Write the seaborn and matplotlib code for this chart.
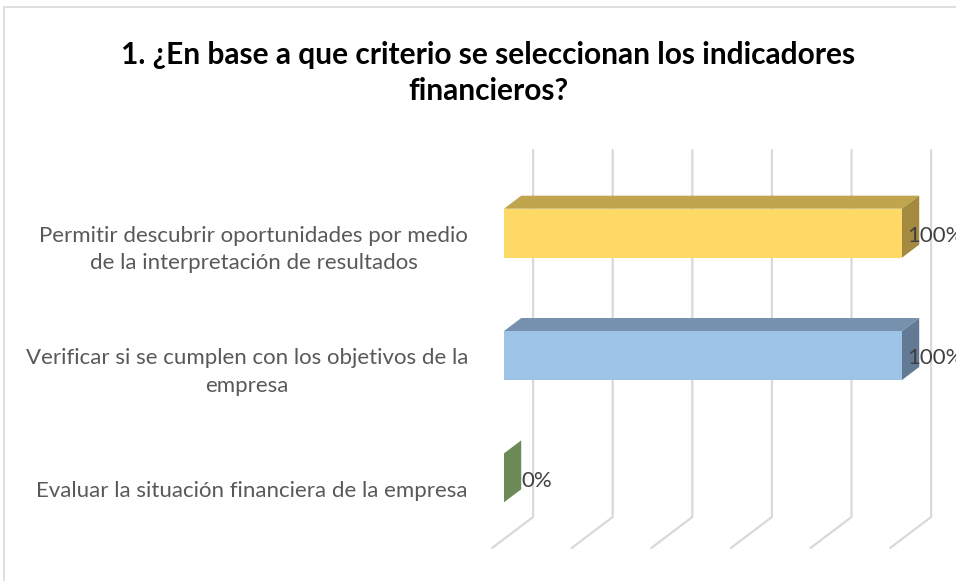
import matplotlib
matplotlib.use("Agg")
import matplotlib.pyplot as plt
import matplotlib.transforms as mtransforms
from matplotlib.patches import Polygon, Rectangle
import numpy as np
import pandas as pd
import seaborn as sns

# data
categories = [
    "Permitir descubrir oportunidades por medio\nde la interpretación de resultados",
    "Verificar si se cumplen con los objetivos de la\nempresa",
    "Evaluar la situación financiera de la empresa",
]
values = [1.0, 1.0, 0.0]
value_labels = ["100%", "100%", "0%"]
grid_ticks = [0.0, 0.2, 0.4, 0.6, 0.8, 1.0]
title = "1. ¿En base a que criterio se seleccionan los indicadores\nfinancieros?"

# colours: front face, top face, side face
front_colors = ["#FFD966", "#9DC3E6", "#A9D18E"]
top_colors = ["#C0A54E", "#7691AE", "#7F9D6B"]
side_colors = ["#A38A3F", "#627A93", "#6B8A57"]

sns.set_theme(style="white")
plt.rcParams['font.family'] = ['Lato', 'DejaVu Sans']

df = pd.DataFrame({"criterio": categories, "valor": values})

W, H = 956, 581
fig = plt.figure(figsize=(W / 100, H / 100), dpi=100)
fig.patch.set_facecolor("white")

# chart border, runs off the right and bottom edges
fig.add_artist(Rectangle((4 / W, -0.05), 1.1, 1.05 - 7 / H, transform=fig.transFigure,
                         fill=False, edgecolor="#d9d9d9", lw=1.2, clip_on=False))

ax = fig.add_axes([504 / W, 42 / H, 398 / W, 367 / H])
sns.barplot(data=df, x="valor", y="criterio", hue="criterio", palette=front_colors,
            width=0.4, saturation=1, legend=False, ax=ax, zorder=3)
ax.set_xlim(0, 1)
ax.set_ylim(2.5, -0.5)
ax.set_xlabel("")
ax.set_ylabel("")
ax.set_xticks([])
for s in ax.spines.values():
    s.set_visible(False)
ax.patch.set_alpha(0)

# fake 3d: depth of floor in pixels (right, up); bars sit in the middle of it
depth_px = np.array([41.0, 31.0])
bar_front, bar_back = 0.29, 0.71
bar_depth = bar_back - bar_front


def shift(x, y, d):
    px = ax.transData.transform((x, y)) + depth_px * d
    return ax.transData.inverted().transform(px)


y_lo, y_hi = ax.get_ylim()  # floor, top
for t in grid_ticks:
    pts = [shift(t, y_lo, -bar_front), shift(t, y_lo, 1 - bar_front), shift(t, y_hi, 1 - bar_front)]
    pts = np.array(pts)
    ax.plot(pts[:, 0], pts[:, 1], color="#d9d9d9", lw=1.6, clip_on=False, zorder=1)

for i, p in enumerate(ax.patches):
    p.set_edgecolor("none")
    x0, x1 = p.get_x(), p.get_x() + p.get_width()
    yt, yb = min(p.get_y(), p.get_y() + p.get_height()), max(p.get_y(), p.get_y() + p.get_height())
    top = [shift(x0, yt, 0), shift(x1, yt, 0), shift(x1, yt, bar_depth), shift(x0, yt, bar_depth)]
    side = [shift(x1, yt, 0), shift(x1, yb, 0), shift(x1, yb, bar_depth), shift(x1, yt, bar_depth)]
    ax.add_patch(Polygon(top, closed=True, facecolor=top_colors[i], edgecolor="none", clip_on=False, zorder=2))
    ax.add_patch(Polygon(side, closed=True, facecolor=side_colors[i], edgecolor="none", clip_on=False, zorder=2))
    yc = (yt + yb) / 2
    off = 5 if p.get_width() > 0 else depth_px[0] * bar_depth
    # the 100% labels run off the right edge, as in the original
    ax.annotate(value_labels[i], xy=(x1, yc), xytext=(off * 0.72, -2), textcoords="offset points",
                ha="left", va="center", fontsize=16, color="#404040", annotation_clip=False, zorder=4)

ax.set_yticks(range(len(categories)))
ax.set_yticklabels(categories, fontsize=16, color="#595959", multialignment="center", linespacing=1.45)
ax.tick_params(axis="y", length=0, pad=26)
lift = mtransforms.ScaledTranslation(0, -11 / 100, fig.dpi_scale_trans)
for lab in ax.get_yticklabels():
    lab.set_transform(lab.get_transform() + lift)

fig.text(488 / W, 1 - 73 / H, title, ha="center", va="center", fontsize=21.5, fontweight="bold",
         color="black", linespacing=1.38)

fig.savefig("out.png", dpi=100)
